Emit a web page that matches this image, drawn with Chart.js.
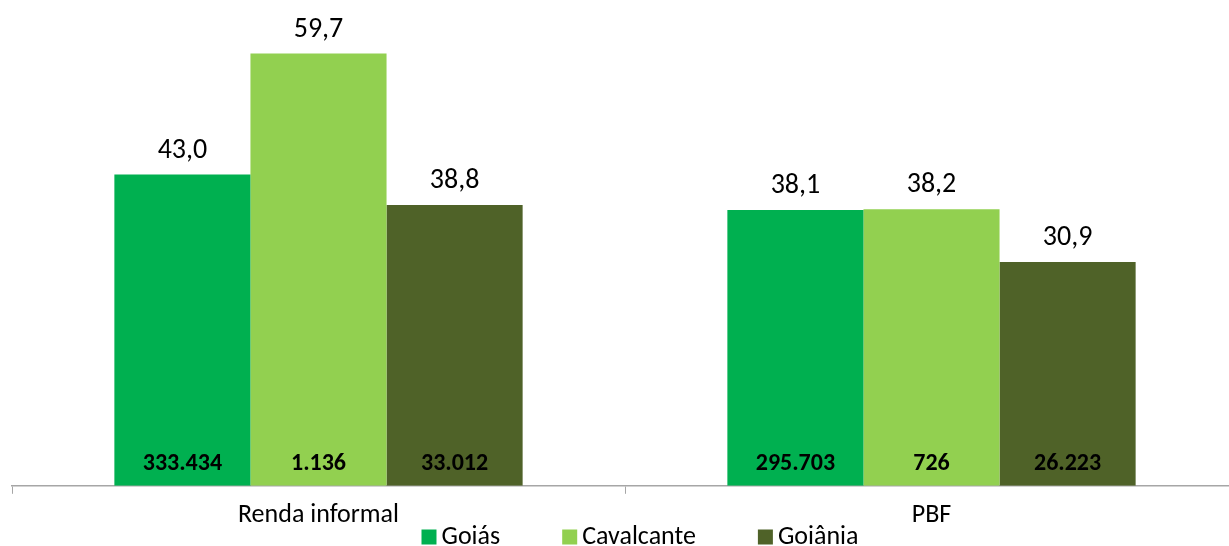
<!DOCTYPE html>
<html>
<head>
<meta charset="utf-8">
<script src="https://cdn.jsdelivr.net/npm/chart.js@4/dist/chart.umd.min.js"></script>
<style>
  html, body { margin: 0; padding: 0; background: #fff; overflow: hidden; }
  #wrap { position: relative; width: 1280px; height: 546px; }
</style>
</head>
<body>
<div id="wrap"><canvas id="barChart"></canvas></div>
<script>
var categories = ["Renda informal", "PBF"];
var seriesNames = ["Goiás", "Cavalcante", "Goiânia"];
var colors = ["#00B050", "#92D050", "#4F6228"];
var goias = [43.0, 38.1];
var cavalcante = [59.7, 38.2];
var goiania = [38.8, 30.9];
// absolute numbers printed at the foot of each bar
var goiasCount = [333434, 295703];
var cavalcanteCount = [1136, 726];
var goianiaCount = [33012, 26223];

var fontFamily = "Carlito, 'Liberation Sans Narrow', 'Open Sans', sans-serif";

function thousands(n) {
  return String(n).replace(/\B(?=(\d{3})+(?!\d))/g, "."); // 333434 -> 333.434
}

var seriesValues = [goias, cavalcante, goiania];
var seriesCounts = [goiasCount, cavalcanteCount, goianiaCount];

var labelPlugin = {
  id: "barLabels",
  afterDatasetsDraw: function (chart) {
    var ctx = chart.ctx;
    var area = chart.chartArea;
    ctx.save();
    chart.data.datasets.forEach(function (ds, i) {
      var meta = chart.getDatasetMeta(i);
      meta.data.forEach(function (bar, j) {
        // value above the bar
        ctx.font = "28px " + fontFamily;
        ctx.fillStyle = "#000";
        ctx.textAlign = "center";
        ctx.textBaseline = "bottom";
        ctx.fillText(ds.data[j].toFixed(1).replace(".", ","), bar.x, bar.y - 10);
        // count inside the base
        ctx.font = "bold 24px " + fontFamily;
        ctx.textBaseline = "middle";
        ctx.fillText(thousands(seriesCounts[i][j]), bar.x, area.bottom - 22);
      });
    });
    ctx.restore();
  },
  afterDraw: function (chart) {
    // legend drawn by hand so it can sit between the category labels
    var ctx = chart.ctx;
    var box = 15, gap = 5, spacing = 62;
    ctx.save();
    ctx.font = "26px " + fontFamily;
    ctx.textBaseline = "middle";
    ctx.textAlign = "left";
    var total = 0;
    var widths = chart.data.datasets.map(function (ds) {
      var w = box + gap + ctx.measureText(ds.label).width;
      total += w;
      return w;
    });
    total += spacing * (widths.length - 1);
    var x = chart.width / 2 - total / 2;
    var y = chart.height - 10;
    chart.data.datasets.forEach(function (ds, i) {
      ctx.fillStyle = ds.backgroundColor;
      ctx.fillRect(x, y - box / 2 + 1, box, box);
      ctx.fillStyle = "#000";
      ctx.fillText(ds.label, x + box + gap, y + 1);
      x += widths[i] + spacing;
    });
    ctx.restore();
  }
};

var ctx = document.getElementById("barChart").getContext("2d");
var barChart = new Chart(ctx, {
  type: "bar",
  data: {
    labels: categories,
    datasets: seriesNames.map(function (name, i) {
      return {
        label: name,
        data: seriesValues[i],
        backgroundColor: colors[i],
        categoryPercentage: 0.666,
        barPercentage: 1.0
      };
    })
  },
  options: {
    responsive: true,
    maintainAspectRatio: false,
    animation: false,
    layout: { padding: { top: 8, left: 12, right: 42, bottom: 9 } },
    plugins: {
      legend: { display: false },
      tooltip: { enabled: false }
    },
    scales: {
      y: { display: false, min: 0, max: 66 },
      x: {
        grid: { display: true, drawOnChartArea: false, drawTicks: true, tickLength: 8, color: "#A6A6A6" },
        border: { color: "#A6A6A6", width: 1.5 },
        ticks: { color: "#000", padding: 6, font: { family: fontFamily, size: 26 } }
      }
    }
  },
  plugins: [labelPlugin]
});
</script>
</body>
</html>
